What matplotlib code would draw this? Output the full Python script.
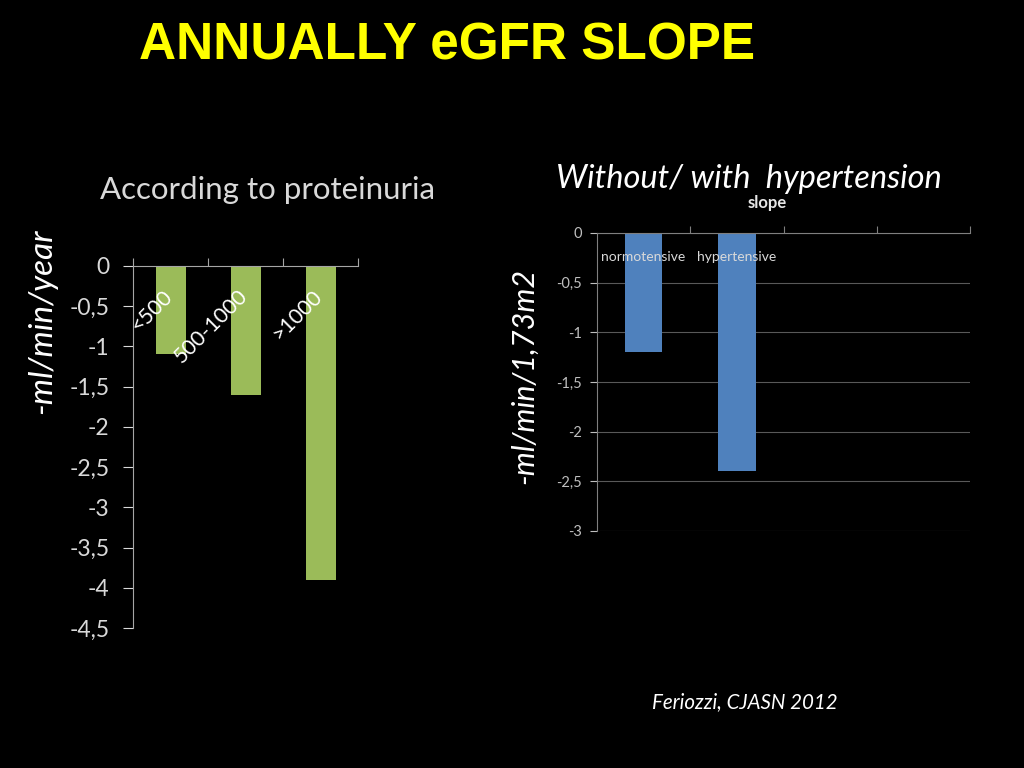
import matplotlib.pyplot as plt
from matplotlib.ticker import FuncFormatter, FixedLocator

# data
prot_labels = ['<500', '500-1000', '>1000']
prot_slope = [-1.1, -1.6, -3.9]

htn_labels = ['normotensive', 'hypertensive']
htn_slope = [-1.2, -2.4]
htn_slots = 4  # the excel chart keeps 4 category slots, only two are filled

green = '#9bbb59'
blue = '#4f81bd'
font = 'Lato'

plt.rcParams['font.family'] = [font, 'DejaVu Sans']


def comma(v, pos):
    if abs(v) < 1e-9:
        return '0'
    return f'{v:g}'.replace('.', ',')


fig = plt.figure(figsize=(10.24, 7.68), dpi=100)
fig.patch.set_facecolor('black')

fig.text(447 / 1024, 1 - 46 / 768, 'ANNUALLY eGFR SLOPE', color='#ffff00', fontsize=37,
         fontweight='bold', family='Liberation Sans', ha='center', va='center')

# left chart: according to proteinuria
ax0 = fig.add_axes([133 / 1024, 1 - 628 / 768, 225 / 1024, 362 / 768])
ax0.set_facecolor('black')
x0 = range(len(prot_slope))
ax0.bar(x0, prot_slope, width=0.4, color=green)
ax0.set_xlim(-0.5, len(prot_slope) - 0.5)
ax0.set_ylim(-4.5, 0)
ax0.set_yticks([i * -0.5 for i in range(10)])
ax0.yaxis.set_major_formatter(FuncFormatter(comma))
ax0.tick_params(axis='y', colors='#d9d9d9', labelsize=16.5, length=7, width=0.8, pad=10)
ax0.xaxis.set_ticks_position('top')
ax0.xaxis.set_major_locator(FixedLocator([-0.5, 0.5, 1.5, 2.5]))
ax0.tick_params(axis='x', colors='#a6a6a6', length=6, width=0.8, labeltop=False, labelbottom=False)
for side in ['right', 'bottom']:
    ax0.spines[side].set_visible(False)
for side in ['left', 'top']:
    ax0.spines[side].set_color('#a6a6a6')
    ax0.spines[side].set_linewidth(0.8)
for i, lab in enumerate(prot_labels):
    ax0.text(i + 0.08, -0.25, lab, rotation=45, ha='right', va='top',
             color='white', fontsize=15.5)
fig.text(268 / 1024, 1 - 190 / 768, 'According to proteinuria', color='#d9d9d9',
         fontsize=22.5, ha='center', va='center')
fig.text(42 / 1024, 1 - 321 / 768, '-ml/min/year', color='white', fontsize=24,
         style='italic', rotation=90, ha='center', va='center')

# right chart: without / with hypertension
ax1 = fig.add_axes([597 / 1024, 1 - 531 / 768, 373 / 1024, 298 / 768])
ax1.set_facecolor('black')
x1 = range(len(htn_slope))
ax1.bar(x1, htn_slope, width=0.4, color=blue, zorder=2)
ax1.set_xlim(-0.5, htn_slots - 0.5)
ax1.set_ylim(-3, 0)
ax1.set_yticks([i * -0.5 for i in range(7)])
ax1.yaxis.set_major_formatter(FuncFormatter(comma))
ax1.yaxis.grid(True, color='#595959', linewidth=0.8, zorder=0)
ax1.tick_params(axis='y', colors='#bfbfbf', labelsize=10.5, length=5, width=0.8, pad=6)
ax1.xaxis.set_ticks_position('top')
ax1.xaxis.set_major_locator(FixedLocator([k + 0.5 for k in range(htn_slots)]))
ax1.tick_params(axis='x', colors='#7f7f7f', length=5, width=0.8, labeltop=False, labelbottom=False)
for side in ['right', 'bottom']:
    ax1.spines[side].set_visible(False)
for side in ['left', 'top']:
    ax1.spines[side].set_color('#7f7f7f')
    ax1.spines[side].set_linewidth(0.8)
for i, lab in enumerate(htn_labels):
    ax1.text(i, -0.24, lab, ha='center', va='center', color='#d9d9d9',
             fontsize=10, zorder=3)
fig.text(767 / 1024, 1 - 203 / 768, 'slope', color='#e6e6e6', fontsize=12,
         fontweight='bold', ha='center', va='center')
fig.text(749 / 1024, 1 - 179 / 768, 'Without/ with  hypertension', color='white',
         fontsize=23.5, style='italic', ha='center', va='center')
fig.text(524 / 1024, 1 - 376 / 768, '-ml/min/1,73m2', color='white', fontsize=22,
         style='italic', rotation=90, ha='center', va='center')

fig.text(745 / 1024, 1 - 702 / 768, 'Feriozzi, CJASN 2012', color='white',
         fontsize=14.8, style='italic', ha='center', va='center')

fig.savefig('out.png', dpi=100, facecolor='black')
